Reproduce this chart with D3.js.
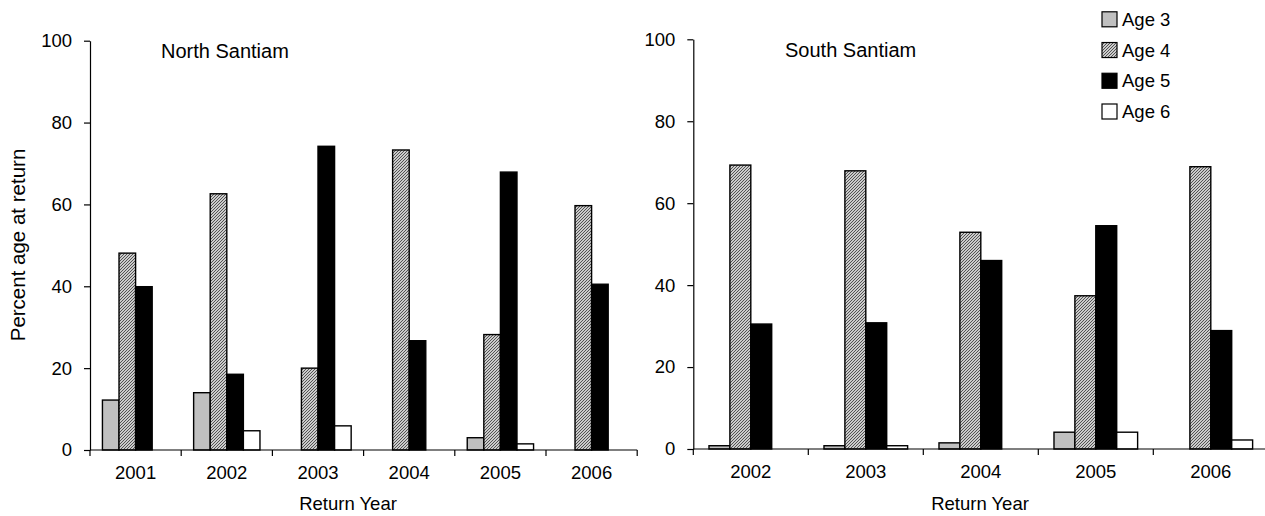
<!DOCTYPE html>
<html>
<head>
<meta charset="utf-8">
<script src="https://cdn.jsdelivr.net/npm/d3@7"></script>
<style>
  html, body { margin: 0; padding: 0; background: #fff; }
  svg { display: block; font-family: "Liberation Sans", Arial, sans-serif; }
</style>
</head>
<body>
<svg id="chart" width="1265" height="516"></svg>
<script>
// Age composition of returning adults, by return year
const seriesNames = ["Age 3", "Age 4", "Age 5", "Age 6"];

const northYears = ["2001", "2002", "2003", "2004", "2005", "2006"];
const northAge3 = [12.2, 14.0, 0, 0, 3.0, 0];
const northAge4 = [48.1, 62.6, 20.0, 73.3, 28.2, 59.7];
const northAge5 = [39.9, 18.5, 74.2, 26.7, 67.9, 40.5];
const northAge6 = [0, 4.7, 5.9, 0, 1.5, 0];

const southYears = ["2002", "2003", "2004", "2005", "2006"];
const southAge3 = [0.8, 0.8, 1.5, 4.1, 0];
const southAge4 = [69.3, 67.9, 52.9, 37.4, 68.9];
const southAge5 = [30.5, 30.8, 46.0, 54.5, 28.9];
const southAge6 = [0, 0.8, 0, 4.1, 2.2];

const yTicks = [0, 20, 40, 60, 80, 100];

const svg = d3.select("#chart");
const defs = svg.append("defs");

// fine diagonal hatch used for the Age 4 series
const hatch = defs.append("pattern")
  .attr("id", "hatch4")
  .attr("patternUnits", "userSpaceOnUse")
  .attr("width", 3).attr("height", 3);
hatch.append("rect").attr("width", 3).attr("height", 3).attr("fill", "#ffffff");
hatch.append("path")
  .attr("d", "M-1,1 L1,-1 M0,3 L3,0 M2,4 L4,2")
  .attr("stroke", "#4a4a4a").attr("stroke-width", 1.1);

const fills = ["#c0c0c0", "url(#hatch4)", "#000000", "#ffffff"];
const fontSize = 18.5;

function drawPanel(opts) {
  const { years, series, x0, x1, yBottom, yTop, title, titleX, titleY } = opts;
  const g = svg.append("g");

  const x = d3.scaleBand().domain(years).range([x0, x1]).paddingInner(0).paddingOuter(0);
  const xs = d3.scaleBand().domain(seriesNames).range([0, x.bandwidth()])
    .paddingInner(0).paddingOuter(0.75);
  const y = d3.scaleLinear().domain([0, 100]).range([yBottom, yTop]);

  // bars
  seriesNames.forEach((name, si) => {
    const vals = series[si];
    g.append("g").selectAll("rect")
      .data(years.map((yr, i) => ({ yr, v: vals[i] })).filter(d => d.v > 0))
      .join("rect")
      .attr("x", d => x(d.yr) + xs(name))
      .attr("y", d => y(d.v))
      .attr("width", xs.bandwidth())
      .attr("height", d => y(0) - y(d.v))
      .attr("fill", fills[si])
      .attr("stroke", "#000")
      .attr("stroke-width", 1.4);
  });

  // y axis
  const yAxis = d3.axisLeft(y).tickValues(yTicks).tickSize(6).tickPadding(12).tickSizeOuter(0);
  const ya = g.append("g").attr("transform", `translate(${x0},0)`).call(yAxis);
  ya.select(".domain").attr("stroke", "#000").attr("stroke-width", 1.2);
  ya.selectAll(".tick line").attr("stroke", "#000").attr("stroke-width", 1.2);
  ya.selectAll(".tick text").attr("font-size", fontSize).attr("fill", "#000")
    .attr("font-family", "Liberation Sans, Arial, sans-serif");

  // x axis: labels centred under each year, ticks on the category boundaries
  const xAxis = d3.axisBottom(x).tickSize(0).tickPadding(16);
  const xa = g.append("g").attr("transform", `translate(0,${yBottom})`).call(xAxis);
  xa.select(".domain").remove();
  xa.selectAll(".tick text").attr("font-size", fontSize).attr("fill", "#000")
    .attr("font-family", "Liberation Sans, Arial, sans-serif");

  g.append("line")
    .attr("x1", x0).attr("x2", x1).attr("y1", yBottom).attr("y2", yBottom)
    .attr("stroke", "#000").attr("stroke-width", 1.2);
  const bounds = years.map(yr => x(yr)).concat([x(years[years.length - 1]) + x.bandwidth()]);
  g.append("g").selectAll("line").data(bounds).join("line")
    .attr("x1", d => d).attr("x2", d => d)
    .attr("y1", yBottom).attr("y2", yBottom + 6)
    .attr("stroke", "#000").attr("stroke-width", 1.2);

  // panel title
  g.append("text").attr("x", titleX).attr("y", titleY)
    .attr("font-size", 20).attr("fill", "#000").text(title);

  return { x, y };
}

drawPanel({
  years: northYears,
  series: [northAge3, northAge4, northAge5, northAge6],
  x0: 90, x1: 637.2, yBottom: 450, yTop: 40.7,
  title: "North Santiam", titleX: 161, titleY: 57.5
});

drawPanel({
  years: southYears,
  series: [southAge3, southAge4, southAge5, southAge6],
  x0: 693.3, x1: 1268.3, yBottom: 449, yTop: 39.3,
  title: "South Santiam", titleX: 785, titleY: 56.5
});

// axis titles
svg.append("text")
  .attr("transform", "translate(25,245) rotate(-90)")
  .attr("text-anchor", "middle").attr("font-size", 20.5).attr("fill", "#000")
  .text("Percent age at return");

svg.append("text").attr("x", 348).attr("y", 510)
  .attr("text-anchor", "middle").attr("font-size", fontSize).attr("fill", "#000")
  .text("Return Year");

svg.append("text").attr("x", 980).attr("y", 510)
  .attr("text-anchor", "middle").attr("font-size", fontSize).attr("fill", "#000")
  .text("Return Year");

// legend
const legend = svg.append("g").attr("transform", "translate(1102,0)");
const rowY = d3.scalePoint().domain(seriesNames).range([19.3, 111.5]);
seriesNames.forEach((name, i) => {
  const cy = rowY(name);
  legend.append("rect")
    .attr("x", 0).attr("y", cy - 7.5).attr("width", 15).attr("height", 15)
    .attr("fill", fills[i]).attr("stroke", "#000").attr("stroke-width", 1.2);
  legend.append("text")
    .attr("x", 20).attr("y", cy).attr("dy", "0.35em")
    .attr("font-size", fontSize).attr("fill", "#000").text(name);
});
</script>
</body>
</html>
